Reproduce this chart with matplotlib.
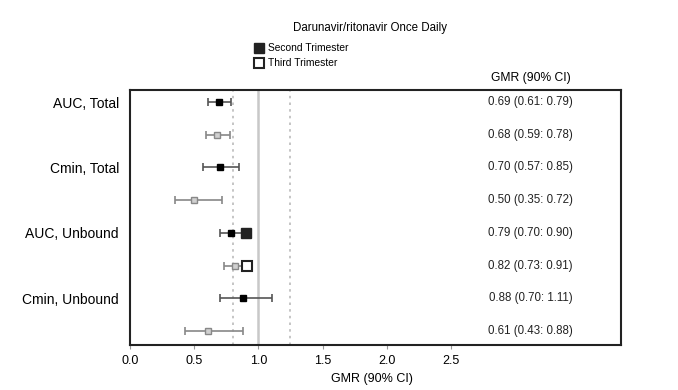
import matplotlib
matplotlib.use("Agg")
import matplotlib.pyplot as plt
from matplotlib.lines import Line2D

plt.rcParams['font.family'] = ['Liberation Sans', 'DejaVu Sans']

# Data
row_labels = ["AUC, Total", "", "Cmin, Total", "", "AUC, Unbound", "", "Cmin, Unbound", ""]
trimester = ["Second", "Third", "Second", "Third", "Second", "Third", "Second", "Third"]
gmr = [0.69, 0.68, 0.70, 0.50, 0.79, 0.82, 0.88, 0.61]
ci_low = [0.61, 0.59, 0.57, 0.35, 0.70, 0.73, 0.70, 0.43]
ci_high = [0.79, 0.78, 0.85, 0.72, 0.90, 0.91, 1.11, 0.88]
table_text = ["0.69 (0.61: 0.79)", "0.68 (0.59: 0.78)", "0.70 (0.57: 0.85)", "0.50 (0.35: 0.72)",
              "0.79 (0.70: 0.90)", "0.82 (0.73: 0.91)", "0.88 (0.70: 1.11)", "0.61 (0.43: 0.88)"]
# stray large legend-style markers seen in the reference (row index, x)
big_marker_rows = [4, 5]
big_marker_x = [0.90, 0.91]
xticks = [0.0, 0.5, 1.0, 1.5, 2.0, 2.5]
ref_solid = 1.0
ref_dotted = [0.8, 1.25]

fig = plt.figure(figsize=(6.78, 3.9), dpi=100)
ax = fig.add_axes([130/678, 1-345/390, (621-130)/678, (345-90)/390])

xmax = (621 - 129) / 128.6
ax.set_xlim(0, xmax)
ax.set_ylim(7.43, -0.37)

ax.axvline(ref_solid, color='#c8c8c8', lw=1.8, zorder=1)
for xv in ref_dotted:
    ax.axvline(xv, color='#bbbbbb', lw=1.2, ls=(0, (1.5, 2.5)), zorder=1)

for i in range(len(gmr)):
    if trimester[i] == "Second":
        ecol, fcol, mec = '#555555', 'black', 'black'
    else:
        ecol, fcol, mec = '#888888', '#d0d0d0', '#888888'
    ax.errorbar(gmr[i], i, xerr=[[gmr[i]-ci_low[i]], [ci_high[i]-gmr[i]]],
                fmt='s', color=ecol, mfc=fcol, mec=mec, ms=5, capsize=3,
                elinewidth=1.2, capthick=1.2, zorder=3)
    ax.text(3.12, i, table_text[i], ha='center', va='center', fontsize=8.3, color='#222222')

for r, xb in zip(big_marker_rows, big_marker_x):
    if trimester[r] == "Second":
        ax.plot(xb, r, 's', ms=7.5, mfc='#222222', mec='#222222', zorder=4)
    else:
        ax.plot(xb, r, 's', ms=7.5, mfc='white', mec='#222222', mew=1.5, zorder=4)

ax.set_yticks(range(len(row_labels)))
ax.set_yticklabels(row_labels, fontsize=10)
ax.tick_params(axis='y', length=0, pad=8)

ax.set_xticks(xticks)
ax.set_xticklabels([f"{t:.1f}" for t in xticks], fontsize=9)
ax.tick_params(axis='x', length=3, color='#999999', pad=4)

for s in ax.spines.values():
    s.set_color('#222222')
    s.set_linewidth(1.5)

fig.text(372/678, 1-379/390, "GMR (90% CI)", ha='center', va='center', fontsize=9)
fig.text(531/678, 1-78/390, "GMR (90% CI)", ha='center', va='center', fontsize=8.7)
fig.text(370/678, 1-28/390, "Darunavir/ritonavir Once Daily", ha='center', va='center', fontsize=8.3)

fig.add_artist(Line2D([259/678], [1-48/390], marker='s', ms=7, mfc='#222222', mec='#222222', ls='none'))
fig.add_artist(Line2D([259/678], [1-63/390], marker='s', ms=7, mfc='white', mec='#222222', mew=1.5, ls='none'))
fig.text(268/678, 1-48/390, "Second Trimester", ha='left', va='center', fontsize=7.4)
fig.text(268/678, 1-63/390, "Third Trimester", ha='left', va='center', fontsize=7.4)

fig.savefig("out.png", dpi=100)
